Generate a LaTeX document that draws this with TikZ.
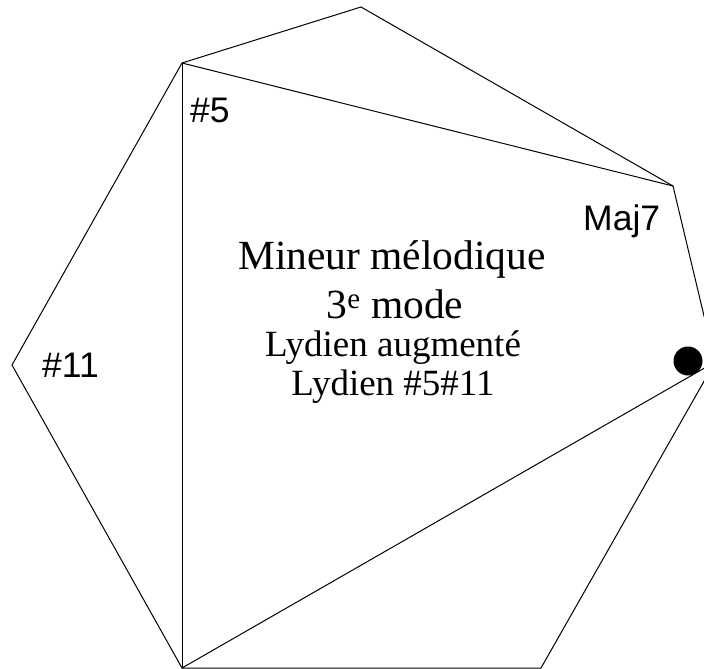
\documentclass[tikz,border=0pt]{standalone}
\usepackage{fontspec}
\setmainfont{Liberation Serif}
\newfontfamily\labelfont{Liberation Sans}
\usetikzlibrary{positioning}

\tikzset{
  edge/.style={line width=1pt, black},
  degree/.style={font=\labelfont\fontsize{35.5}{40}\selectfont, anchor=base west, inner sep=0pt},
  title/.style={font=\fontsize{41.5}{46}\selectfont, anchor=base, inner sep=0pt},
  subtitle/.style={font=\fontsize{37}{42}\selectfont, anchor=base, inner sep=0pt}
}

\begin{document}
\begin{tikzpicture}[x=1pt, y=-1pt]
  \useasboundingbox (0,0) rectangle (704,669);

  % Heptagon vertices
  \coordinate (top) at (361, 7);
  \coordinate (upleft) at (182, 63);
  \coordinate (left) at (12, 365);
  \coordinate (lowleft) at (182, 668);
  \coordinate (lowright) at (541, 668);
  \coordinate (right) at (715, 362);
  \coordinate (upright) at (673, 186);

  % Outline
  \draw[edge] (top) -- (upleft) -- (left) -- (lowleft) -- (lowright)
    -- (right) -- (upright) -- cycle;

  % Inner chords
  \draw[edge] (upleft) -- (upright);
  \draw[edge] (upleft) -- (lowleft);
  \draw[edge] (lowleft) -- (right);

  % Root marker
  \fill (688, 361) circle (14.5);

  % Degree labels
  \node[degree] (sharpfive) at (190, 122) {\#5};
  \node[degree] (majseven) at (583, 230) {Maj7};
  \node[degree] (sharpeleven) at (42, 377) {\#11};

  % Mode name
  \node[title] (scale) at (392, 269) {Mineur mélodique};
  \node[title] (mode) at (395, 318) {3\textsuperscript{e} mode};
  \node[subtitle] (name) at (393, 356) {Lydien augmenté};
  \node[subtitle] (alias) at (393, 395) {Lydien \#5\#11};
\end{tikzpicture}
\end{document}
